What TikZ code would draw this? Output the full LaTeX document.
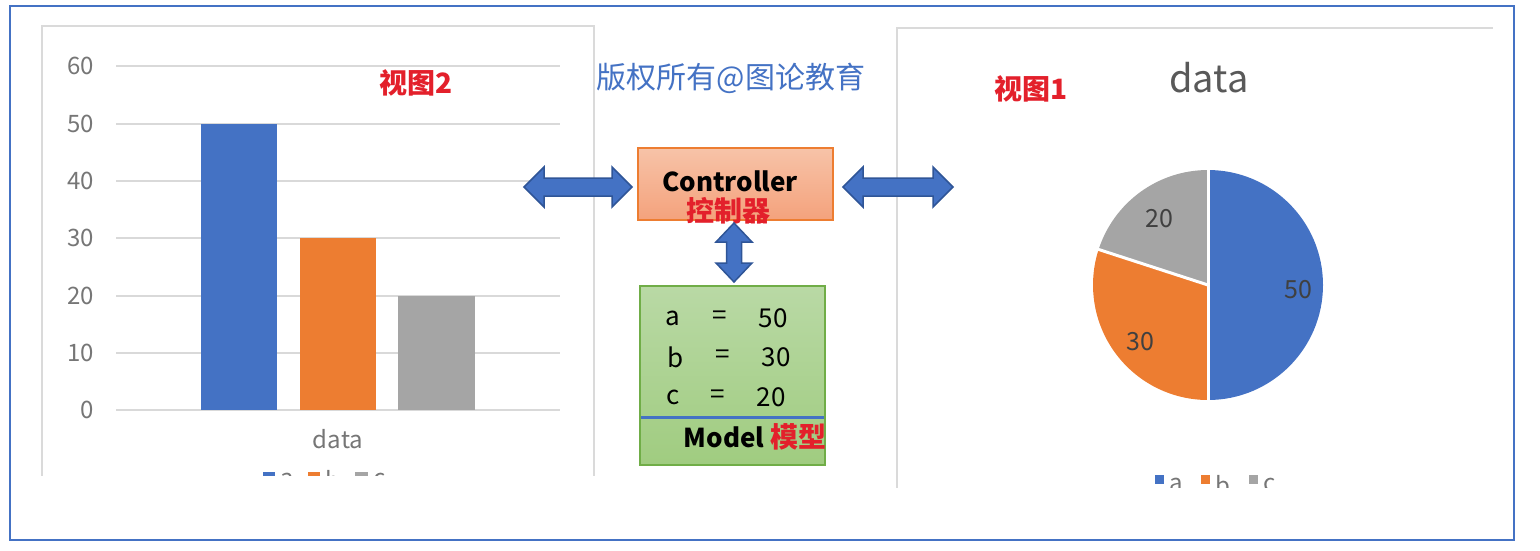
\documentclass[tikz,border=0pt]{standalone}
\usepackage{fontspec}
\setmainfont{Noto Sans CJK SC}
\usetikzlibrary{positioning}

\definecolor{msblue}{HTML}{4472C4}
\definecolor{msorange}{HTML}{ED7D31}
\definecolor{msgray}{HTML}{A5A5A5}
\definecolor{gridgray}{HTML}{D9D9D9}
\definecolor{panelgray}{HTML}{DADADA}
\definecolor{axisgray}{HTML}{767676}
\definecolor{titlegray}{HTML}{595959}
\definecolor{pietext}{HTML}{404040}
\definecolor{arrowedge}{HTML}{2F5597}
\definecolor{labred}{HTML}{E3202B}
\definecolor{ctrltop}{HTML}{F7C3A8}
\definecolor{ctrlbot}{HTML}{F4A27C}
\definecolor{modeltop}{HTML}{B9D9A5}
\definecolor{modelbot}{HTML}{A0CC80}
\definecolor{modeledge}{HTML}{70AD47}

\begin{document}
\begin{tikzpicture}[x=1pt, y=-1pt,
  every node/.style={inner sep=0pt},
  axislbl/.style={font=\fontsize{24}{24}\selectfont, text=axisgray},
  pielbl/.style={font=\fontsize{25}{25}\selectfont, text=pietext},
  viewlbl/.style={font=\fontsize{28}{28}\selectfont\bfseries, text=labred},
  redlbl/.style={font=\fontsize{28}{28}\selectfont\bfseries, text=labred},
  boldtxt/.style={font=\fontsize{26}{26}\selectfont\bfseries, text=black},
  modeltxt/.style={font=\fontsize{26}{26}\selectfont, text=black},
  gridline/.style={gridgray, line width=1.8pt},
  panel/.style={panelgray, line width=1.6pt},
  blockarrow/.style={fill=msblue, draw=arrowedge, line width=1.5pt, line join=miter},
  ctrlbox/.style={draw=msorange, line width=1.2pt, top color=ctrltop, bottom color=ctrlbot,
    minimum width=195pt, minimum height=72pt},
  modelbox/.style={draw=modeledge, line width=1.5pt, top color=modeltop, bottom color=modelbot,
    minimum width=185pt, minimum height=179pt}]
\useasboundingbox (0,0) rectangle (1540,550);

% Outer frame
\draw[msblue, line width=2.5pt] (10,6) rectangle (1514,540);

% Bar chart (view 2)
\begin{scope}
\clip (40,24) rectangle (597,475);
\draw[panel] (42,476) -- (42,26) -- (594,26) -- (594,476);
\foreach \v/\yy in {0/410,10/353,20/296,30/238,40/181,50/124,60/66} {
  \draw[gridline] (116,\yy) -- (560,\yy);
  \node[axislbl, anchor=east] (tick\v) at (94,\yy) {\v};
}
\fill[msblue] (201,124) rectangle (277,410);
\fill[msorange] (300,238) rectangle (376,410);
\fill[msgray] (398,296) rectangle (475,410);
\node[axislbl] (barcat) at (338,439) {data};
% legend, cut by the frame
\fill[msblue] (263,472) rectangle (275,484);
\node[axislbl, anchor=west] (barleg1) at (280,480) {a};
\fill[msorange] (308,472) rectangle (320,484);
\node[axislbl, anchor=west] (barleg2) at (325,480) {b};
\fill[msgray] (355,472) rectangle (368,484);
\node[axislbl, anchor=west] (barleg3) at (373,480) {c};
\end{scope}
\node[viewlbl] (view2) at (416,83) {视图2};

% Pie chart (view 1)
\begin{scope}
\clip (895,25) rectangle (1496,487);
\draw[panel] (897,488) -- (897,28) -- (1493,28);
\coordinate (pc) at (1208,285);
\fill[msblue] (pc) -- ++(-90:115) arc[start angle=-90, end angle=90, radius=115] -- cycle;
\fill[msorange] (pc) -- ++(90:115) arc[start angle=90, end angle=198, radius=115] -- cycle;
\fill[msgray] (pc) -- ++(198:115) arc[start angle=198, end angle=270, radius=115] -- cycle;
\foreach \a in {-90,90,198} \draw[white, line width=3pt] (pc) -- ++(\a:116);
\node[pielbl] (pie50) at (1298,290) {50};
\node[pielbl] (pie30) at (1140,342) {30};
\node[pielbl] (pie20) at (1159,219) {20};
\node[font=\fontsize{38}{38}\selectfont, text=titlegray] (pietitle) at (1209,78) {data};
% legend, cut by the frame
\fill[msblue] (1155,475) rectangle (1164,484);
\node[axislbl, anchor=west] (pieleg1) at (1169,485) {a};
\fill[msorange] (1201,475) rectangle (1210,484);
\node[axislbl, anchor=west] (pieleg2) at (1215,485) {b};
\fill[msgray] (1249,475) rectangle (1258,484);
\node[axislbl, anchor=west] (pieleg3) at (1263,485) {c};
\end{scope}
\node[viewlbl] (view1) at (1031,89) {视图1};

% Copyright line
\node[font=\fontsize{30}{30}\selectfont, text=msblue] (copy) at (731,78) {版权所有@图论教育};

% Controller
\node[ctrlbox] (ctrl) at (735.5,184) {};
\node[boldtxt] (ctrltxt) at (730,181) {Controller};
\node[redlbl] (ctrlcn) at (728,211) {控制器};

% Model
\node[modelbox] (model) at (732.5,375.5) {};
\foreach \n/\v/\yy/\xa/\xb/\xc in {a/50/318/673/720/773, b/30/357/676/723/776, c/20/397/673/718/771} {
  \node[modeltxt] (name\n) at (\xa,\yy) {\n};
  \node[modeltxt] (eq\n) at (\xb,\yy) {=};
  \node[modeltxt] (val\n) at (\xc,\yy) {\v};
}
\draw[msblue, line width=3pt] (641,417) -- (824,417);
\node[boldtxt] (modeltxt) at (724,437) {Model};
\node[redlbl, right=6pt of modeltxt] (modelcn) {模型};

% Block arrows
\draw[blockarrow] (524,187) -- (544,167) -- (544,178) -- (612,178) -- (612,167) -- (632,187)
  -- (612,207) -- (612,196) -- (544,196) -- (544,207) -- cycle;
\draw[blockarrow] (843,187) -- (863,167) -- (863,178) -- (933,178) -- (933,167) -- (953,187)
  -- (933,207) -- (933,196) -- (863,196) -- (863,207) -- cycle;
\draw[blockarrow] (734,223) -- (752,242) -- (741.5,242) -- (741.5,263) -- (752,263) -- (734,282)
  -- (716,263) -- (726.5,263) -- (726.5,242) -- (716,242) -- cycle;

\end{tikzpicture}
\end{document}
